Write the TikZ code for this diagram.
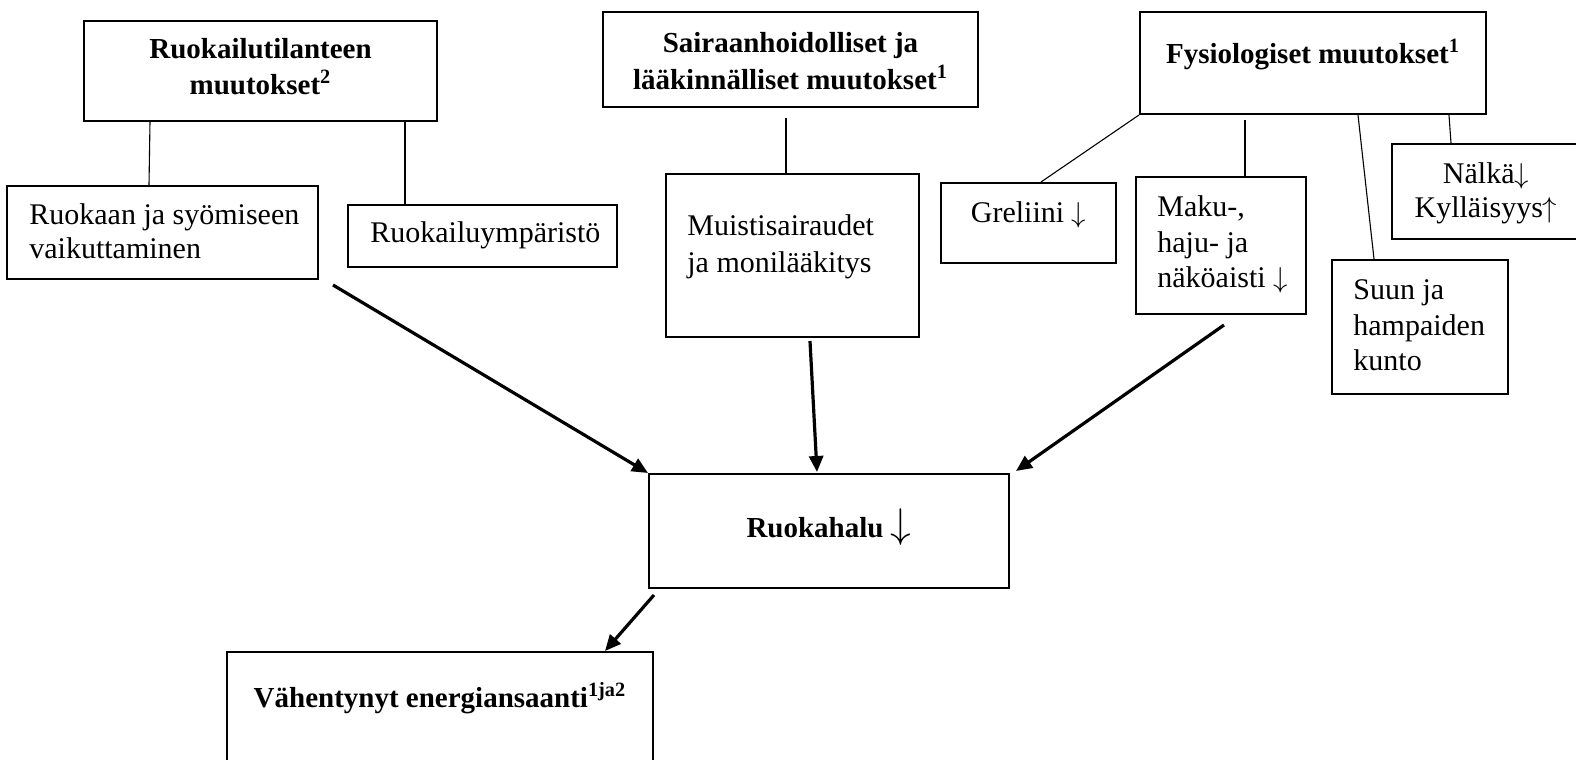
\documentclass[tikz,border=0pt]{standalone}
\usepackage{fontspec}
\setmainfont{Liberation Serif}
\usetikzlibrary{arrows.meta,calc}
\newcommand{\dnarr}{\ensuremath{\downarrow}}
\newcommand{\uparr}{\ensuremath{\uparrow}}
\begin{document}
\begin{tikzpicture}[x=0.5pt,y=-0.5pt,
  every node/.style={font=\fontsize{15}{18}\selectfont},
  hd/.style={font=\fontsize{14.5}{17.5}\selectfont\bfseries},
  bx/.style={draw, line width=1pt, inner sep=0pt},
  tl/.style={inner sep=0pt, anchor=base west},
  tc/.style={inner sep=0pt, anchor=base},
  thin link/.style={line width=0.55pt},
  flow/.style={line width=1.6pt, -{Triangle[length=8pt,width=7pt]}}]
\useasboundingbox (0,0) rectangle (1576,760);

% boxes
\node[bx, minimum width=176.5pt, minimum height=50pt] (A) at (260.5,71) {};
\node[bx, minimum width=155.5pt, minimum height=46.5pt] (B1) at (162.5,232.5) {};
\node[bx, minimum width=134.5pt, minimum height=31pt] (B2) at (482.5,236) {};
\node[bx, minimum width=187.5pt, minimum height=47.5pt] (C) at (790.5,59.5) {};
\node[bx, minimum width=126.5pt, minimum height=81.5pt] (D) at (792.5,255.5) {};
\node[bx, minimum width=173pt, minimum height=51pt] (F) at (1313,63) {};
\node[bx, minimum width=87.5pt, minimum height=40pt] (G) at (1028.5,223) {};
\node[bx, minimum width=85pt, minimum height=68.5pt] (M) at (1221,245.5) {};
\node[bx, minimum width=88pt, minimum height=67pt] (S) at (1420,327) {};
\node[bx, minimum width=94pt, minimum height=47.5pt] (N) at (1486,191.5) {};
\node[bx, minimum width=180pt, minimum height=57pt] (R) at (829,531) {};
\node[bx, minimum width=213pt, minimum height=64pt] (V) at (440,716) {};

% texts
\node[tc, hd] (tA1) at (260.5,58) {Ruokailutilanteen};
\node[tc, hd] (tA2) at (260.5,94) {muutokset\textsuperscript{2}};
\node[tl] (tB1a) at (29,224) {Ruokaan ja syömiseen};
\node[tl] (tB1b) at (29,258) {vaikuttaminen};
\node[tl] (tB2) at (370,242) {Ruokailuympäristö};
\node[tc, hd] (tC1) at (790.5,52) {Sairaanhoidolliset ja};
\node[tc, hd] (tC2) at (790.5,89) {lääkinnälliset muutokset\textsuperscript{1}};
\node[tl] (tD1) at (687,235) {Muistisairaudet};
\node[tl] (tD2) at (687,272) {ja monilääkitys};
\node[tc, hd] (tF) at (1313,63) {Fysiologiset muutokset\textsuperscript{1}};
\node[tc] (tG) at (1028.5,222) {Greliini \dnarr};
\node[tl] (tM1) at (1157,216) {Maku-,};
\node[tl] (tM2) at (1157,252) {haju- ja};
\node[tl] (tM3) at (1157,287) {näköaisti \dnarr};
\node[tl] (tS1) at (1353,299) {Suun ja};
\node[tl] (tS2) at (1353,335) {hampaiden};
\node[tl] (tS3) at (1353,370) {kunto};
\node[tc] (tN1) at (1486,183) {Nälkä\dnarr};
\node[tc] (tN2) at (1486,217) {Kylläisyys\uparr};
\node[tc, hd] (tR) at (829,537) {Ruokahalu {\mdseries\fontsize{20}{20}\selectfont\dnarr}};
\node[tc, hd] (tV) at (440,707) {Vähentynyt energiansaanti\textsuperscript{1ja2}};

% thin links
\draw[thin link] (150,0 |- A.south) -- (149,0 |- B1.north);
\draw[thin link] (405,0 |- A.south) -- (405,0 |- B2.north);
\draw[thin link] ($(786,0 |- C.south)+(0,10)$) -- (786,0 |- D.north);
\draw[thin link] (F.south west) -- (1041,0 |- G.north);
\draw[thin link] ($(1245,0 |- F.south)+(0,5)$) -- (1245,0 |- M.north);
\draw[thin link] (1358,0 |- F.south) -- (1374,0 |- S.north);
\draw[thin link] (1449,0 |- F.south) -- (1451,0 |- N.north);

% flow arrows
\draw[flow] ($(B1.south east)+(14,5)$) -- (R.north west);
\draw[flow] ($(D.south)+(17.5,3)$) -- ($(R.north)+(-12,-1)$);
\draw[flow] ($(M.south)+(3,10)$) -- ($(R.north east)+(6,-2)$);
\draw[flow] ($(R.south west)+(6,6)$) -- ($(V.north east)+(-49,0)$);
\end{tikzpicture}
\end{document}
